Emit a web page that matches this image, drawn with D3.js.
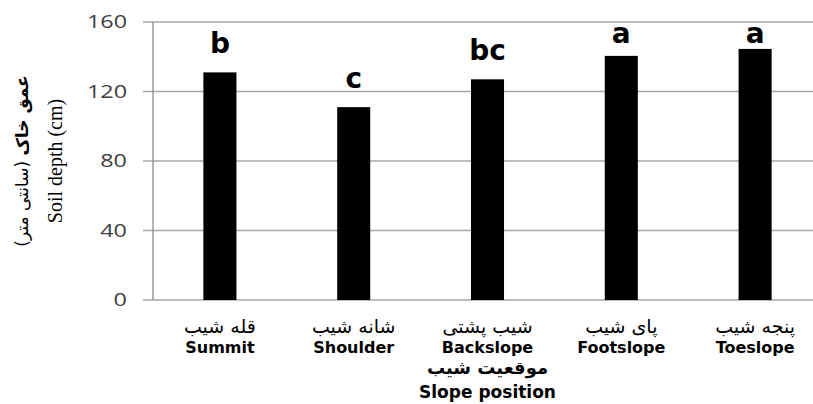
<!DOCTYPE html>
<html lang="en">
<head>
    <meta charset="UTF-8">
    <title>Soil depth by slope position</title>
    <script src="https://cdn.jsdelivr.net/npm/d3@7"></script>
    <style>
        body {
            margin: 0;
            padding: 0;
            background: #fff;
        }
        svg text {
            fill: #000;
        }
    </style>
</head>
<body>
    <svg id="chart"></svg>
    <script>
        // chart data
        const positionsFa = ['قله شیب', 'شانه شیب', 'شیب پشتی', 'پای شیب', 'پنجه شیب'];
        const positionsEn = ['Summit', 'Shoulder', 'Backslope', 'Footslope', 'Toeslope'];
        const depths = [131, 111, 127, 140.5, 144.5];
        const groups = ['b', 'c', 'bc', 'a', 'a'];
        const yTicks = [0, 40, 80, 120, 160];

        const width = 813;
        const height = 404;
        const plot = { left: 153, top: 22, bottom: 300, right: 822 };

        const svg = d3.select('#chart')
            .attr('width', width)
            .attr('height', height);

        const x = d3.scaleBand()
            .domain(positionsEn)
            .range([plot.left, plot.right])
            .paddingInner(0.753)
            .paddingOuter(0.3765);

        const y = d3.scaleLinear()
            .domain([0, 160])
            .range([plot.bottom, plot.top]);

        // gridlines
        svg.append('g')
            .selectAll('line')
            .data(yTicks)
            .enter()
            .append('line')
            .attr('x1', plot.left - 10)
            .attr('x2', plot.right)
            .attr('y1', d => y(d))
            .attr('y2', d => y(d))
            .attr('stroke', '#a6a6a6')
            .attr('stroke-width', 1.3);

        // y axis line
        svg.append('line')
            .attr('x1', plot.left).attr('x2', plot.left)
            .attr('y1', y(160)).attr('y2', y(0))
            .attr('stroke', '#8c8c8c')
            .attr('stroke-width', 1.3);

        // tick labels (the original is stretched sideways a little)
        svg.append('g')
            .selectAll('text')
            .data(yTicks)
            .enter()
            .append('text')
            .attr('transform', d => `translate(${plot.left - 26},${y(d)}) scale(1.3,1)`)
            .attr('dy', '0.36em')
            .attr('text-anchor', 'end')
            .style('font-family', '"Open Sans", sans-serif')
            .style('font-size', '18px')
            .style('fill', '#404040')
            .text(d => d);

        // bars
        svg.append('g')
            .selectAll('rect')
            .data(depths)
            .enter()
            .append('rect')
            .attr('x', (d, i) => x(positionsEn[i]))
            .attr('y', d => y(d))
            .attr('width', x.bandwidth())
            .attr('height', d => y(0) - y(d))
            .attr('fill', '#000');

        // significance letters (the 'a' ones sit at a common height near the top)
        svg.append('g')
            .selectAll('text')
            .data(depths)
            .enter()
            .append('text')
            .attr('x', (d, i) => x(positionsEn[i]) + x.bandwidth() / 2)
            .attr('y', d => Math.max(y(d) - 19, 43))
            .attr('text-anchor', 'middle')
            .style('font-family', '"DejaVu Sans", sans-serif')
            .style('font-weight', 'bold')
            .style('font-size', '28px')
            .text((d, i) => groups[i]);

        // category labels
        const cats = svg.append('g')
            .selectAll('g')
            .data(positionsEn)
            .enter()
            .append('g')
            .attr('transform', d => `translate(${x(d) + x.bandwidth() / 2},0)`);

        cats.append('text')
            .attr('y', 333)
            .attr('text-anchor', 'middle')
            .attr('direction', 'rtl')
            .style('font-family', '"DejaVu Sans", sans-serif')
            .style('font-size', '19px')
            .text((d, i) => positionsFa[i]);

        cats.append('text')
            .attr('y', 353)
            .attr('text-anchor', 'middle')
            .style('font-family', '"DejaVu Sans", sans-serif')
            .style('font-weight', 'bold')
            .style('font-size', '16px')
            .text(d => d);

        // x axis title
        const xMid = x(positionsEn[2]) + x.bandwidth() / 2;
        svg.append('text')
            .attr('x', xMid)
            .attr('y', 374)
            .attr('text-anchor', 'middle')
            .attr('direction', 'rtl')
            .style('font-family', '"DejaVu Sans", sans-serif')
            .style('font-weight', 'bold')
            .style('font-size', '18px')
            .text('موقعیت شیب');

        svg.append('text')
            .attr('x', xMid)
            .attr('y', 398)
            .attr('text-anchor', 'middle')
            .style('font-family', '"DejaVu Sans", sans-serif')
            .style('font-weight', 'bold')
            .style('font-size', '17px')
            .text('Slope position');

        // y axis title, two rotated lines
        const yTitle = svg.append('g')
            .attr('transform', `translate(0,${(y(160) + y(0)) / 2}) rotate(-90)`);

        const fa = yTitle.append('text')
            .attr('x', 0)
            .attr('y', 28)
            .attr('text-anchor', 'middle')
            .attr('direction', 'rtl')
            .style('font-family', '"DejaVu Sans", sans-serif')
            .style('font-size', '17px');
        fa.append('tspan').style('font-weight', 'bold').text('عمق خاک');
        fa.append('tspan').text(' (سانتی متر)');

        yTitle.append('text')
            .attr('x', 0)
            .attr('y', 62)
            .attr('text-anchor', 'middle')
            .style('font-family', '"Liberation Serif", serif')
            .style('font-size', '20px')
            .text('Soil depth (cm)');
    </script>
</body>
</html>
